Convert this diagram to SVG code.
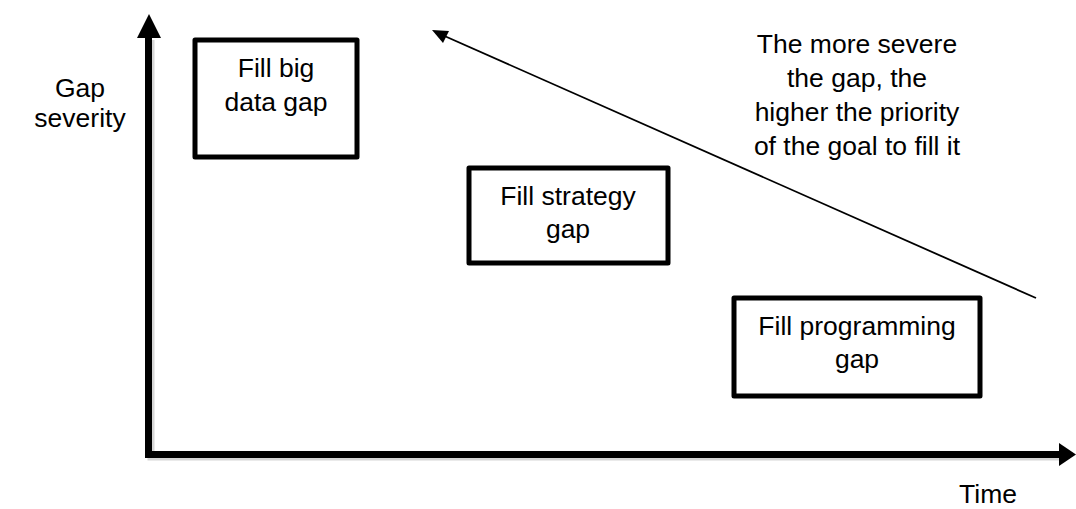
<svg xmlns="http://www.w3.org/2000/svg" width="1076" height="509" viewBox="0 0 1076 509">
<style>
.box{fill:#fff;stroke:#000;stroke-width:5;stroke-linejoin:round}
.t{font-family:"Liberation Sans",Arial,sans-serif;font-size:26.5px;fill:#000;text-anchor:middle}
.axis{stroke:#000;stroke-width:7;fill:none}
.shadow{stroke:#bbb;stroke-width:7;fill:none;opacity:0.6}
</style>
<rect width="1076" height="509" fill="#fff"/>
<g id="axes">
<path class="shadow" d="M151,40 V457 H1060"/>
<path class="axis" d="M148.5,36 V454.5 H1062"/>
<polygon points="149,14 137,38 161,38" fill="#000"/>
<polygon points="1076,454.5 1059,443 1059,466" fill="#000"/>
</g>
<g id="y-label">
<text class="t" x="80" y="97">Gap</text>
<text class="t" x="80" y="127">severity</text>
</g>
<g id="x-label">
<text class="t" x="988" y="503">Time</text>
</g>
<g id="node-bigdata">
<rect class="box" x="195" y="40" width="162" height="117"/>
<text class="t" x="276" y="77">Fill big</text>
<text class="t" x="276" y="111">data gap</text>
</g>
<g id="node-strategy">
<rect class="box" x="469" y="168" width="199" height="95"/>
<text class="t" x="568" y="205">Fill strategy</text>
<text class="t" x="568" y="238">gap</text>
</g>
<g id="node-programming">
<rect class="box" x="734" y="298" width="246" height="98"/>
<text class="t" x="857" y="335">Fill programming</text>
<text class="t" x="857" y="368">gap</text>
</g>
<g id="connectors">
<line x1="1036" y1="298" x2="440" y2="34" stroke="#000" stroke-width="1.8"/>
<polygon points="432,30 449,31 443,43" fill="#000"/>
</g>
<g id="annotation">
<text class="t" x="857" y="53">The more severe</text>
<text class="t" x="857" y="87">the gap, the</text>
<text class="t" x="857" y="121">higher the priority</text>
<text class="t" x="857" y="155">of the goal to fill it</text>
</g>
</svg>
